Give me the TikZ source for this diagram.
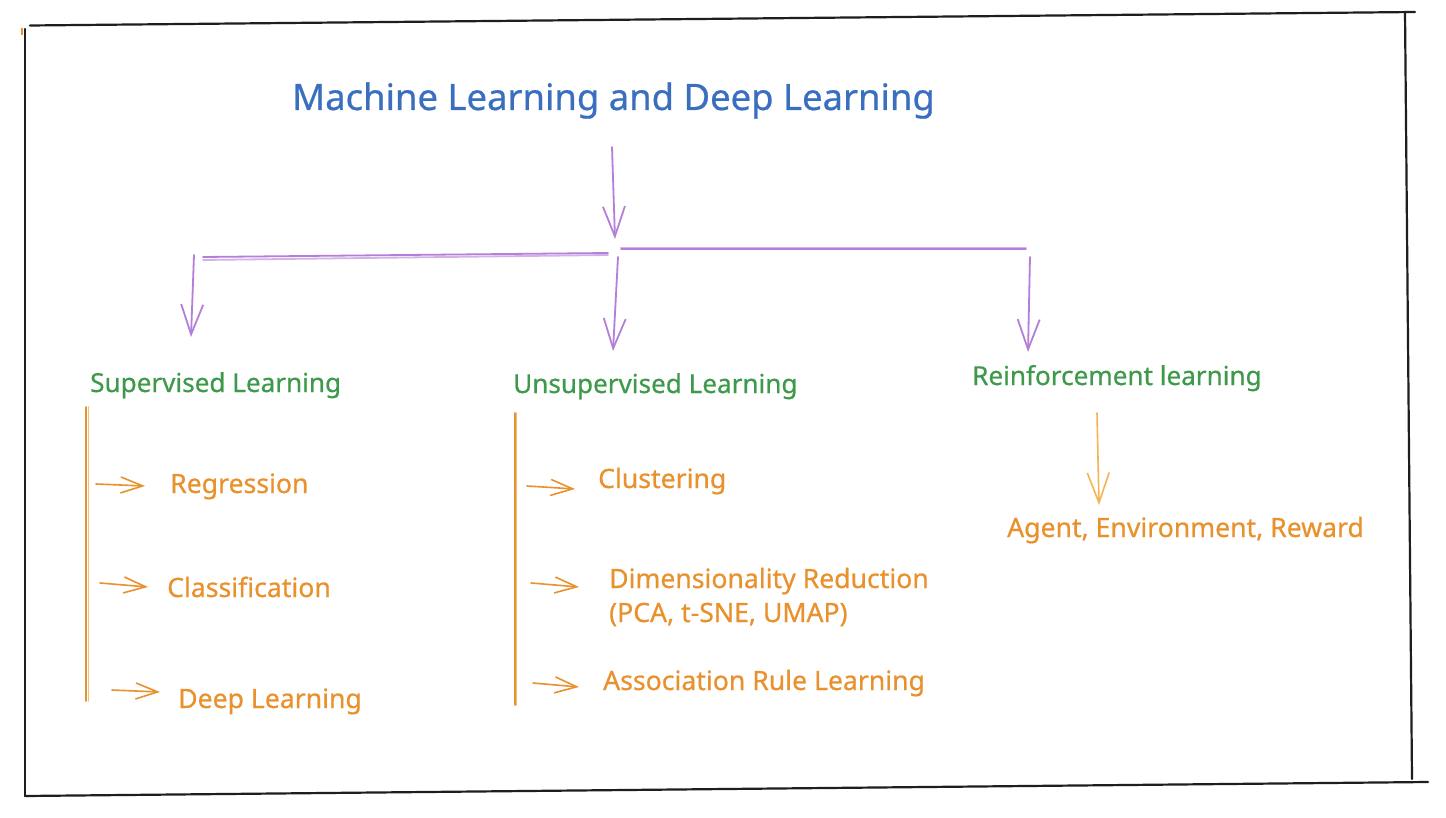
\documentclass[tikz,border=0pt]{standalone}
\usepackage{fontspec}
\setmainfont{Noto Sans}
\newfontfamily\handfont[FakeBold=0.6]{Noto Sans}
\usetikzlibrary{arrows.meta}
\definecolor{tblue}{HTML}{3A6FC0}
\definecolor{tgreen}{HTML}{3E9A4A}
\definecolor{torange}{HTML}{E8912D}
\definecolor{tlorange}{HTML}{F2B552}
\definecolor{tpurple}{HTML}{B47FD9}
\definecolor{tframe}{HTML}{1E1E1E}
\begin{document}
\begin{tikzpicture}[x=1pt,y=-1pt,
  titletext/.style={text=tblue, font=\handfont\fontsize{36.4}{40}\selectfont, anchor=base west, inner sep=0pt},
  cattext/.style={text=tgreen, font=\handfont\fontsize{26.1}{34}\selectfont, anchor=base west, inner sep=0pt},
  itemtext/.style={text=torange, font=\handfont\fontsize{26.6}{34}\selectfont, anchor=base west, inner sep=0pt, align=left},
  frameline/.style={draw=tframe, line width=2.2pt, line cap=round},
  pline/.style={draw=tpurple, line width=1.8pt, line cap=round},
  parrow/.style={draw=tpurple, line width=1.8pt, line cap=round, -{Straight Barb[length=30pt,width=22pt,line width=1.8pt]}},
  oline/.style={draw=torange, line width=1.6pt, line cap=round},
  oarrow/.style={draw=torange, line width=1.6pt, line cap=round, -{Straight Barb[length=22pt,width=16pt,line width=1.6pt]}},
  rarrow/.style={draw=tlorange, line width=1.6pt, line cap=round, -{Straight Barb[length=30pt,width=22pt,line width=1.6pt]}}
]
\useasboundingbox (0,0) rectangle (1446,818);
\fill[white] (0,0) rectangle (1446,818);

% frame
\draw[frameline] (30,25.5) -- (1415,12);
\draw[frameline] (1405,12) -- (1412,779);
\draw[frameline] (1428,782) -- (25,796);
\draw[frameline] (25,796) -- (25,29);
\draw[draw=torange, line width=1.5pt] (22,28) -- (22,35);

% texts
\node[titletext] (title) at (292,110) {Machine Learning and Deep Learning};
\node[cattext] (sup) at (90,392) {Supervised Learning};
\node[cattext] (unsup) at (513,393) {Unsupervised Learning};
\node[cattext] (rl) at (972,385) {Reinforcement learning};

\node[itemtext] (reg) at (170,493) {Regression};
\node[itemtext] (cls) at (167,597) {Classification};
\node[itemtext] (dl) at (178,708) {Deep Learning};
\node[itemtext] (clu) at (598,488) {Clustering};
\node[itemtext] (dim) at (609,622) {Dimensionality Reduction\\(PCA, t-SNE, UMAP)};
\node[itemtext] (asr) at (603,690) {Association Rule Learning};
\node[itemtext] (aer) at (1007,537) {Agent, Environment, Reward};

% connector points
\coordinate (t0) at (612,147);
\coordinate (t1) at (615,239);
\coordinate (hl0) at (608,253);
\coordinate (hl1) at (203,257);
\coordinate (hr0) at (621,249);
\coordinate (hr1) at (1026,249);
\coordinate (a0) at (194,255);
\coordinate (a1) at (191,337);
\coordinate (b0) at (618,257);
\coordinate (b1) at (613,351);
\coordinate (c0) at (1030,257);
\coordinate (c1) at (1028,352);

\draw[parrow] (t0) -- (t1);
\draw[pline] (hl0) -- (hl1);
\draw[pline, opacity=0.6] ([yshift=-2pt]hl0) -- ([yshift=-3pt]hl1);
\draw[pline] (hr0) -- (hr1);
\draw[pline, opacity=0.6] ([yshift=1.5pt]hr0) -- ([yshift=1.5pt]hr1);
\draw[parrow] (a0) -- (a1);
\draw[parrow] (b0) -- (b1);
\draw[parrow] (c0) -- (c1);

% supervised branch
\coordinate (sv0) at (86,407);
\coordinate (sv1) at (86,701);
\draw[oline] (sv0) -- (sv1);
\draw[oline, opacity=0.6] ([xshift=2.5pt]sv0) -- ([xshift=2.5pt]sv1);
\coordinate (s1a) at (96,484);  \coordinate (s1b) at (145,486);
\coordinate (s2a) at (100,583); \coordinate (s2b) at (148,587);
\coordinate (s3a) at (112,690); \coordinate (s3b) at (160,692);
\draw[oarrow] (s1a) -- (s1b);
\draw[oarrow] (s2a) -- (s2b);
\draw[oarrow] (s3a) -- (s3b);

% unsupervised branch
\coordinate (uv0) at (515,413);
\coordinate (uv1) at (515,705);
\draw[oline] (uv0) -- (uv1);
\draw[oline, opacity=0.6] ([xshift=1.5pt]uv0) -- ([xshift=1.5pt]uv1);
\coordinate (u1a) at (527,486); \coordinate (u1b) at (575,489);
\coordinate (u2a) at (531,583); \coordinate (u2b) at (579,587);
\coordinate (u3a) at (533,683); \coordinate (u3b) at (579,687);
\draw[oarrow] (u1a) -- (u1b);
\draw[oarrow] (u2a) -- (u2b);
\draw[oarrow] (u3a) -- (u3b);

% reinforcement branch
\coordinate (r0) at (1097,413);
\coordinate (r1) at (1099,505);
\draw[rarrow] (r0) -- (r1);
\end{tikzpicture}
\end{document}
